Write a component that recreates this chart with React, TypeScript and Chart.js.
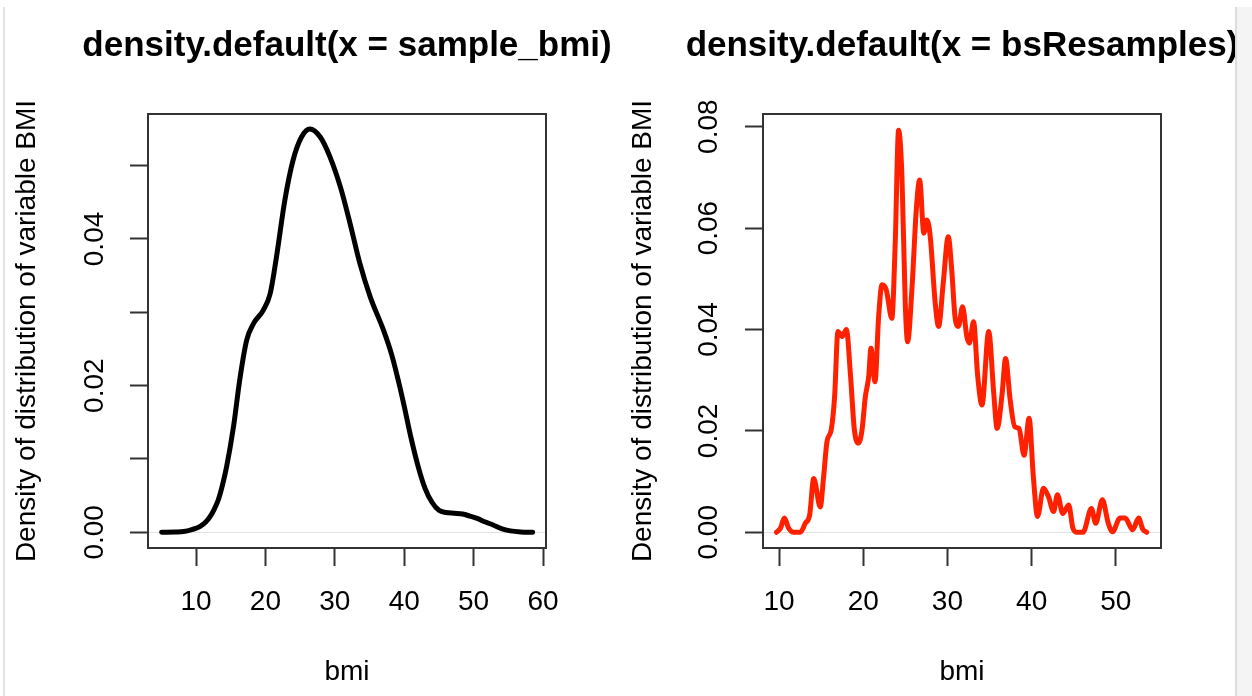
import React, { useEffect, useRef } from 'react';
import { Chart, registerables } from 'chart.js';

Chart.register(...registerables);

const FONT = "'Liberation Sans', Arial, Helvetica, sans-serif";

// Left panel: density of sample_bmi
const sampleBmi = [5.05, 7.0, 8.2, 9.5, 10.6, 11.4, 12.0, 12.6, 13.2, 13.8, 14.4, 15.4, 16.3, 17.3, 18.3, 19.7, 20.7, 21.6, 22.8, 24.0, 25.2, 26.4, 27.9, 29.3, 30.8, 32.2, 33.6, 35.1, 37.0, 38.2, 39.2, 40.0, 41.0, 42.0, 43.0, 44.0, 45.0, 46.0, 47.2, 48.4, 49.5, 50.5, 51.7, 52.8, 54.0, 55.3, 56.8, 58.5];
const sampleDensity = [0.0, 0.00005, 0.0001, 0.0004, 0.0008, 0.0014, 0.0021, 0.0031, 0.0044, 0.0064, 0.0089, 0.0144, 0.0208, 0.0262, 0.0285, 0.0303, 0.0326, 0.0376, 0.0453, 0.0508, 0.0539, 0.055, 0.0539, 0.0512, 0.0471, 0.0421, 0.0367, 0.0321, 0.0276, 0.0242, 0.0205, 0.0172, 0.0128, 0.009, 0.006, 0.0041, 0.003, 0.0027, 0.0026, 0.0025, 0.0022, 0.0019, 0.0014, 0.001, 0.0005, 0.0002, 0.00005, 0.0];

// Right panel: density of bsResamples
const bsBmi = [9.69, 10.17, 10.64, 11.15, 11.74, 12.54, 13.13, 13.64, 14.12, 14.9, 15.3, 15.7, 16.2, 16.6, 17.0, 17.5, 18.0, 18.5, 18.95, 19.45, 19.86, 20.25, 20.65, 20.92, 21.4, 21.83, 22.23, 22.74, 23.4, 23.8, 24.2, 24.6, 24.99, 25.27, 25.8, 26.3, 26.7, 27.2, 27.57, 27.96, 28.55, 28.95, 29.5, 30.1, 30.5, 30.9, 31.3, 31.8, 32.3, 32.6, 33.1, 33.6, 34.1, 34.9, 35.5, 35.9, 36.5, 36.9, 37.45, 38.0, 38.5, 39.1, 39.7, 40.2, 40.7, 41.4, 42.0, 42.6, 43.06, 43.7, 44.4, 44.9, 45.4, 46.1, 47.1, 47.6, 48.4, 49.1, 49.6, 50.5, 51.1, 52.0, 52.7, 53.2, 53.67];
const bsDensity = [0.0, 0.0008, 0.0028, 0.0008, 0.0, 0.0, 0.0018, 0.0034, 0.0106, 0.005, 0.011, 0.0179, 0.0202, 0.0267, 0.0396, 0.0386, 0.04, 0.0307, 0.0202, 0.0176, 0.0202, 0.0267, 0.0307, 0.0363, 0.0297, 0.0425, 0.0488, 0.0478, 0.0422, 0.057, 0.0793, 0.0701, 0.0452, 0.0376, 0.0484, 0.0636, 0.0695, 0.059, 0.0616, 0.0583, 0.0452, 0.0406, 0.0491, 0.0583, 0.052, 0.0425, 0.0406, 0.0445, 0.0386, 0.0373, 0.0415, 0.0307, 0.0251, 0.0396, 0.0274, 0.0205, 0.0274, 0.0343, 0.0261, 0.0208, 0.0205, 0.0152, 0.0225, 0.011, 0.0031, 0.0087, 0.007, 0.0041, 0.0074, 0.0037, 0.0054, 0.0008, 0.0, 0.0, 0.0047, 0.0018, 0.0064, 0.0018, 0.0001, 0.0028, 0.0028, 0.0005, 0.0028, 0.0006, 0.0];

// Axis ticks
const leftXTicks = [10, 20, 30, 40, 50, 60];
const leftYTicks = [0, 0.01, 0.02, 0.03, 0.04, 0.05];
const leftYLabels = ['0.00', '', '0.02', '', '0.04', ''];
const rightXTicks = [10, 20, 30, 40, 50];
const rightYTicks = [0, 0.02, 0.04, 0.06, 0.08];
const rightYLabels = ['0.00', '0.02', '0.04', '0.06', '0.08'];

const leftTitle = 'density.default(x = sample_bmi)';
const rightTitle = 'density.default(x = bsResamples)';
const xTitle = 'bmi';
const yTitle = 'Density of distribution of variable BMI';

const boxPlugin = {
  id: 'rbox',
  afterDatasetsDraw(chart: any) {
    const { ctx, chartArea: a } = chart;
    ctx.save();
    ctx.strokeStyle = '#333';
    ctx.lineWidth = 2;
    ctx.strokeRect(a.left, a.top, a.right - a.left, a.bottom - a.top);
    ctx.restore();
  },
};

type Panel = {
  xs: number[];
  ys: number[];
  color: string;
  title: string;
  xTicks: number[];
  yTicks: number[];
  yLabels: string[];
  xMin: number;
  xMax: number;
  yMin: number;
  yMax: number;
  yAxisWidth: number;
  rightPad: number;
  yTickPad: number;
  yTitlePad: number;
};

function makeConfig(p: Panel): any {
  const data = p.xs.map((x, i) => ({ x, y: p.ys[i] }));
  return {
    type: 'line',
    data: {
      datasets: [
        {
          data,
          xAxisID: 'x',
          yAxisID: 'y',
          borderColor: p.color,
          borderWidth: 5,
          pointRadius: 0,
          fill: false,
          cubicInterpolationMode: 'monotone',
          borderCapStyle: 'round',
          borderJoinStyle: 'round',
        },
      ],
    },
    options: {
      responsive: false,
      maintainAspectRatio: false,
      devicePixelRatio: 1,
      animation: false,
      layout: { padding: 0 },
      plugins: {
        legend: { display: false },
        tooltip: { enabled: false },
        title: {
          display: true,
          text: p.title,
          fullSize: true,
          align: 'center',
          color: '#000',
          font: { family: FONT, size: 35, weight: 'bold', lineHeight: 1 },
          padding: { top: 28.5, bottom: 50.5 },
        },
      },
      scales: {
        x: {
          type: 'linear',
          position: 'bottom',
          min: p.xMin,
          max: p.xMax,
          afterBuildTicks: (s: any) => {
            s.ticks = p.xTicks.map((v) => ({ value: v }));
          },
          afterFit: (s: any) => {
            s.height = 148;
          },
          grid: {
            display: true,
            drawOnChartArea: false,
            drawTicks: true,
            tickLength: 18,
            tickColor: '#333',
            tickWidth: 2,
          },
          border: { display: false },
          ticks: {
            autoSkip: false,
            maxRotation: 0,
            minRotation: 0,
            color: '#000',
            padding: 22.5,
            font: { family: FONT, size: 28, lineHeight: 1 },
            callback: (v: any) => String(v),
          },
          title: {
            display: true,
            text: xTitle,
            color: '#000',
            font: { family: FONT, size: 28, lineHeight: 1 },
            padding: { top: 0, bottom: 10 },
          },
        },
        y: {
          type: 'linear',
          position: 'left',
          min: p.yMin,
          max: p.yMax,
          afterBuildTicks: (s: any) => {
            s.ticks = p.yTicks.map((v) => ({ value: v }));
          },
          afterFit: (s: any) => {
            s.width = p.yAxisWidth;
          },
          grid: {
            display: true,
            drawOnChartArea: true,
            drawTicks: true,
            tickLength: 18,
            tickColor: '#333',
            tickWidth: 2,
            lineWidth: 1,
            color: (c: any) => (c.tick && c.tick.value === 0 ? '#e2e2e2' : 'rgba(0,0,0,0)'),
          },
          border: { display: false },
          ticks: {
            autoSkip: false,
            minRotation: 90,
            maxRotation: 90,
            crossAlign: 'center',
            color: '#000',
            padding: p.yTickPad,
            font: { family: FONT, size: 28, lineHeight: 1 },
            callback: (v: any, i: number) => p.yLabels[i] ?? '',
          },
          title: {
            display: true,
            text: yTitle,
            color: '#000',
            font: { family: FONT, size: 28, lineHeight: 1 },
            padding: { top: p.yTitlePad, bottom: 0 },
          },
        },
        // empty right-hand margin (keeps the title centred on the plot box)
        margin: {
          type: 'linear',
          position: 'right',
          display: true,
          afterFit: (s: any) => {
            s.width = p.rightPad;
          },
          grid: { display: false },
          border: { display: false },
          ticks: { display: false },
          title: { display: false },
        },
      },
    },
    plugins: [boxPlugin],
  };
}

// Left canvas spans 0..694 (centre 347 = plot centre), right canvas 626..1298 (centre 962)
const leftPanel: Panel = {
  xs: sampleBmi,
  ys: sampleDensity,
  color: '#000000',
  title: leftTitle,
  xTicks: leftXTicks,
  yTicks: leftYTicks,
  yLabels: leftYLabels,
  xMin: 3.08,
  xMax: 60.43,
  yMin: -0.00214,
  yMax: 0.05704,
  yAxisWidth: 148,
  rightPad: 148,
  yTickPad: 7,
  yTitlePad: 13.6,
};

const rightPanel: Panel = {
  xs: bsBmi,
  ys: bsDensity,
  color: '#ff2000',
  title: rightTitle,
  xTicks: rightXTicks,
  yTicks: rightYTicks,
  yLabels: rightYLabels,
  xMin: 8.1,
  xMax: 55.36,
  yMin: -0.0031,
  yMax: 0.0825,
  yAxisWidth: 137,
  rightPad: 137,
  yTickPad: 8,
  yTitlePad: 3,
};

export default function App() {
  const leftRef = useRef<HTMLCanvasElement | null>(null);
  const rightRef = useRef<HTMLCanvasElement | null>(null);

  useEffect(() => {
    const c1 = new Chart(leftRef.current as HTMLCanvasElement, makeConfig(leftPanel));
    const c2 = new Chart(rightRef.current as HTMLCanvasElement, makeConfig(rightPanel));
    return () => {
      c1.destroy();
      c2.destroy();
    };
  }, []);

  return (
    <div
      style={{
        position: 'fixed',
        left: 0,
        top: 0,
        width: 1252,
        height: 696,
        background: '#ffffff',
        overflow: 'hidden',
      }}
    >
      <canvas
        ref={leftRef}
        width={694}
        height={696}
        style={{ position: 'absolute', left: 0, top: 0, width: 694, height: 696, display: 'block' }}
      />
      <canvas
        ref={rightRef}
        width={672}
        height={696}
        style={{ position: 'absolute', left: 626, top: 0, width: 672, height: 696, display: 'block' }}
      />
      <div style={{ position: 'absolute', left: 3, top: 7, width: 2, height: 689, background: '#e4e4e4' }} />
      <div
        style={{
          position: 'absolute',
          left: 1235,
          top: 7,
          width: 17,
          height: 689,
          background: '#f4f4f4',
          borderLeft: '2px solid #dcdcdc',
          boxSizing: 'border-box',
        }}
      />
    </div>
  );
}
